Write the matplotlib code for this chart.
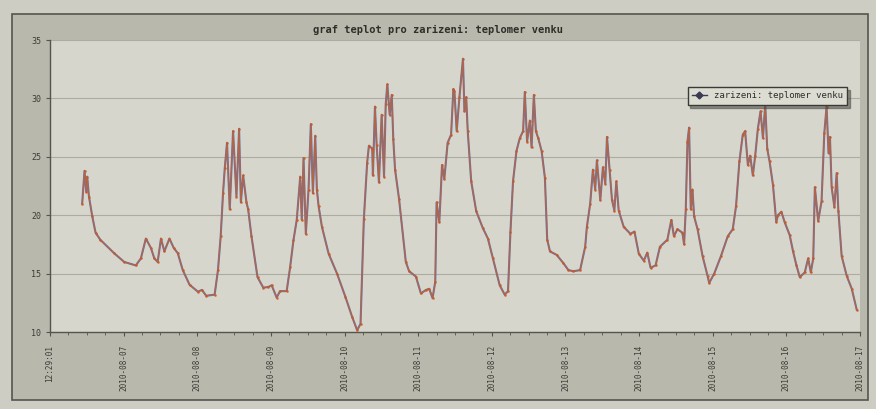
import matplotlib.pyplot as plt
from matplotlib.patches import Rectangle

# cas od zacatku mereni (dny) a namerena teplota (°C)
days = [
    0.437, 0.469, 0.492, 0.505, 0.529, 0.574, 0.619, 0.683, 0.870, 1.007,
    1.165, 1.234, 1.302, 1.370, 1.417, 1.462, 1.507, 1.553, 1.622, 1.680,
    1.735, 1.803, 1.895, 2.008, 2.063, 2.122, 2.236, 2.281, 2.318, 2.350,
    2.373, 2.404, 2.441, 2.486, 2.532, 2.568, 2.592, 2.623, 2.668, 2.691,
    2.736, 2.818, 2.896, 2.964, 3.010, 3.078, 3.124, 3.214, 3.261, 3.306,
    3.351, 3.398, 3.419, 3.443, 3.474, 3.511, 3.542, 3.570, 3.602, 3.624,
    3.648, 3.693, 3.784, 3.898, 4.012, 4.103, 4.171, 4.217, 4.262, 4.307,
    4.331, 4.376, 4.385, 4.413, 4.436, 4.467, 4.504, 4.536, 4.559, 4.581,
    4.613, 4.641, 4.662, 4.686, 4.740, 4.832, 4.877, 4.969, 5.037, 5.105,
    5.150, 5.195, 5.232, 5.250, 5.287, 5.324, 5.355, 5.400, 5.447, 5.478,
    5.492, 5.523, 5.560, 5.608, 5.628, 5.652, 5.673, 5.720, 5.788, 5.878,
    5.947, 6.015, 6.107, 6.175, 6.220, 6.253, 6.288, 6.335, 6.380, 6.425,
    6.448, 6.479, 6.516, 6.540, 6.571, 6.598, 6.630, 6.676, 6.721, 6.752,
    6.790, 6.881, 6.971, 7.040, 7.108, 7.199, 7.268, 7.291, 7.336, 7.373,
    7.404, 7.427, 7.473, 7.509, 7.541, 7.564, 7.600, 7.632, 7.664, 7.691,
    7.723, 7.791, 7.883, 7.937, 7.996, 8.064, 8.111, 8.156, 8.224, 8.283,
    8.384, 8.438, 8.473, 8.520, 8.589, 8.611, 8.634, 8.657, 8.679, 8.702,
    8.725, 8.747, 8.794, 8.862, 8.930, 8.952, 9.020, 9.112, 9.204, 9.272,
    9.317, 9.362, 9.408, 9.440, 9.477, 9.508, 9.545, 9.577, 9.613, 9.649,
    9.682, 9.713, 9.740, 9.772, 9.818, 9.863, 9.886, 9.932, 9.977, 10.045,
    10.091, 10.137, 10.182, 10.250, 10.296, 10.332, 10.365, 10.387, 10.432, 10.478,
    10.515, 10.546, 10.573, 10.592, 10.615, 10.652, 10.683, 10.706, 10.751, 10.820,
    10.888, 10.956,
]
temps = [
    21.0, 23.8, 22.0, 23.3, 21.6, 19.9, 18.5, 17.9, 16.75, 16.0,
    15.7, 16.3, 18.0, 17.2, 16.3, 16.0, 18.0, 16.9, 18.0, 17.2,
    16.75, 15.3, 14.05, 13.45, 13.6, 13.1, 13.2, 15.3, 18.2, 21.9,
    24.0, 26.2, 20.5, 27.2, 21.6, 27.4, 21.1, 23.4, 21.1, 20.5,
    18.2, 14.7, 13.8, 13.85, 14.0, 12.95, 13.5, 13.5, 15.55, 17.85,
    19.6, 23.3, 19.6, 24.9, 18.4, 22.2, 27.8, 21.9, 26.8, 22.2,
    20.75, 19.0, 16.7, 15.0, 13.0, 11.3, 10.15, 10.7, 19.65, 24.5,
    25.95, 25.7, 23.4, 29.3, 26.0, 22.8, 28.6, 23.3, 29.5, 31.2,
    28.6, 30.3, 26.5, 23.9, 21.4, 16.0, 15.2, 14.75, 13.3, 13.6,
    13.7, 12.9, 14.3, 21.1, 19.4, 24.3, 23.1, 26.2, 26.9, 30.8,
    30.6, 27.2, 30.1, 33.4, 28.9, 30.1, 27.2, 22.9, 20.35, 18.9,
    18.0, 16.3, 14.0, 13.2, 13.5, 18.6, 22.9, 25.5, 26.6, 27.2,
    30.55, 26.3, 28.1, 25.8, 30.3, 27.2, 26.6, 25.5, 23.2, 17.9,
    16.9, 16.6, 15.9, 15.3, 15.2, 15.3, 17.3, 19.0, 21.0, 23.9,
    22.2, 24.7, 21.3, 24.1, 22.7, 26.7, 23.9, 21.3, 20.4, 22.9,
    20.4, 19.0, 18.4, 18.6, 16.7, 16.1, 16.8, 15.5, 15.7, 17.3,
    17.9, 19.6, 18.2, 18.8, 18.5, 17.5, 20.5, 26.3, 27.5, 20.5,
    22.2, 19.9, 18.8, 16.5, 14.8, 14.2, 15.0, 16.5, 18.2, 18.8,
    20.8, 24.6, 26.9, 27.2, 24.3, 25.1, 23.4, 25.1, 27.4, 28.9,
    26.6, 29.5, 25.7, 24.6, 22.6, 19.4, 20.0, 20.3, 19.4, 18.3,
    16.9, 15.7, 14.7, 15.1, 16.3, 15.1, 16.3, 22.4, 19.5, 21.2,
    27.0, 29.3, 25.3, 26.7, 22.4, 20.7, 23.6, 20.4, 16.5, 14.8,
    13.7, 11.9,
]

tick_days = list(range(12))
tick_labels = ["12:29:01"] + ["2010-08-%02d" % d for d in range(7, 18)]
y_ticks = [10, 15, 20, 25, 30, 35]

title = "graf teplot pro zarizeni: teplomer venku"
series_name = "zarizeni: teplomer venku"

mono = "DejaVu Sans Mono"
text_col = "#3c3c38"

fig = plt.figure(figsize=(8.76, 4.09), dpi=100, facecolor="#cdcdc3")

# sedy ramecek kolem celeho grafu
frame = Rectangle((12 / 876, 9 / 409), 856 / 876, 386 / 409, transform=fig.transFigure,
                  facecolor="#b8b8ac", edgecolor="#55554f", linewidth=1.2, zorder=-10)
fig.patches.append(frame)

ax = fig.add_axes([50 / 876, 1 - 332 / 409, 810 / 876, 292 / 409])
ax.set_zorder(1)
ax.set_facecolor("#d6d6cc")

# modra spojnice, pres ni oranzove body mereni
ax.plot(days, temps, color="#6d74a6", linewidth=1.5, zorder=3)
ax.plot(days, temps, color="#c8602a", linewidth=0.9, alpha=0.75, zorder=4)
ax.plot(days, temps, linestyle="none", marker="o", markersize=1.8,
        markerfacecolor="#d0561c", markeredgewidth=0, alpha=0.9, zorder=5)

ax.set_xlim(0, 11)
ax.set_ylim(10, 35)
ax.set_yticks(y_ticks)
ax.set_yticklabels([str(v) for v in y_ticks], fontsize=6, color=text_col, family=mono)
ax.set_xticks(tick_days)
ax.set_xticklabels(tick_labels, rotation=90, fontsize=5.5, color=text_col, family=mono)
ax.set_xticks([d + q / 4 for d in range(11) for q in range(1, 4)], minor=True)
ax.tick_params(axis="both", which="major", length=3, width=0.8, color="#55554f")
ax.tick_params(axis="x", which="minor", length=2, width=0.6, color="#55554f")
ax.tick_params(axis="x", pad=6)

ax.yaxis.grid(True, color="#acaca3", linewidth=0.8)
ax.set_axisbelow(True)
for side in ["top", "right"]:
    ax.spines[side].set_visible(False)
for side in ["left", "bottom"]:
    ax.spines[side].set_color("#55554f")
    ax.spines[side].set_linewidth(1.0)

fig.text(0.5, 1 - 30 / 409, title, ha="center", va="center", fontsize=7.5,
         family=mono, fontweight="bold", color="#2e2e2a")

leg = ax.legend([plt.Line2D([], [], color="#3a3a55", marker="D", markersize=3.5, linewidth=1.0)],
                [series_name], loc="upper right", bbox_to_anchor=(0.99, 0.855),
                prop={"family": mono, "size": 6.5}, frameon=True, fancybox=False,
                shadow=True, handlelength=1.6, borderpad=0.5)
leg.get_frame().set_facecolor("#dcdcd2")
leg.get_frame().set_edgecolor("#3a3a36")
leg.get_frame().set_linewidth(1.0)
for t in leg.get_texts():
    t.set_color("#2e2e2a")

fig.savefig("out.png", dpi=100, facecolor=fig.get_facecolor())
